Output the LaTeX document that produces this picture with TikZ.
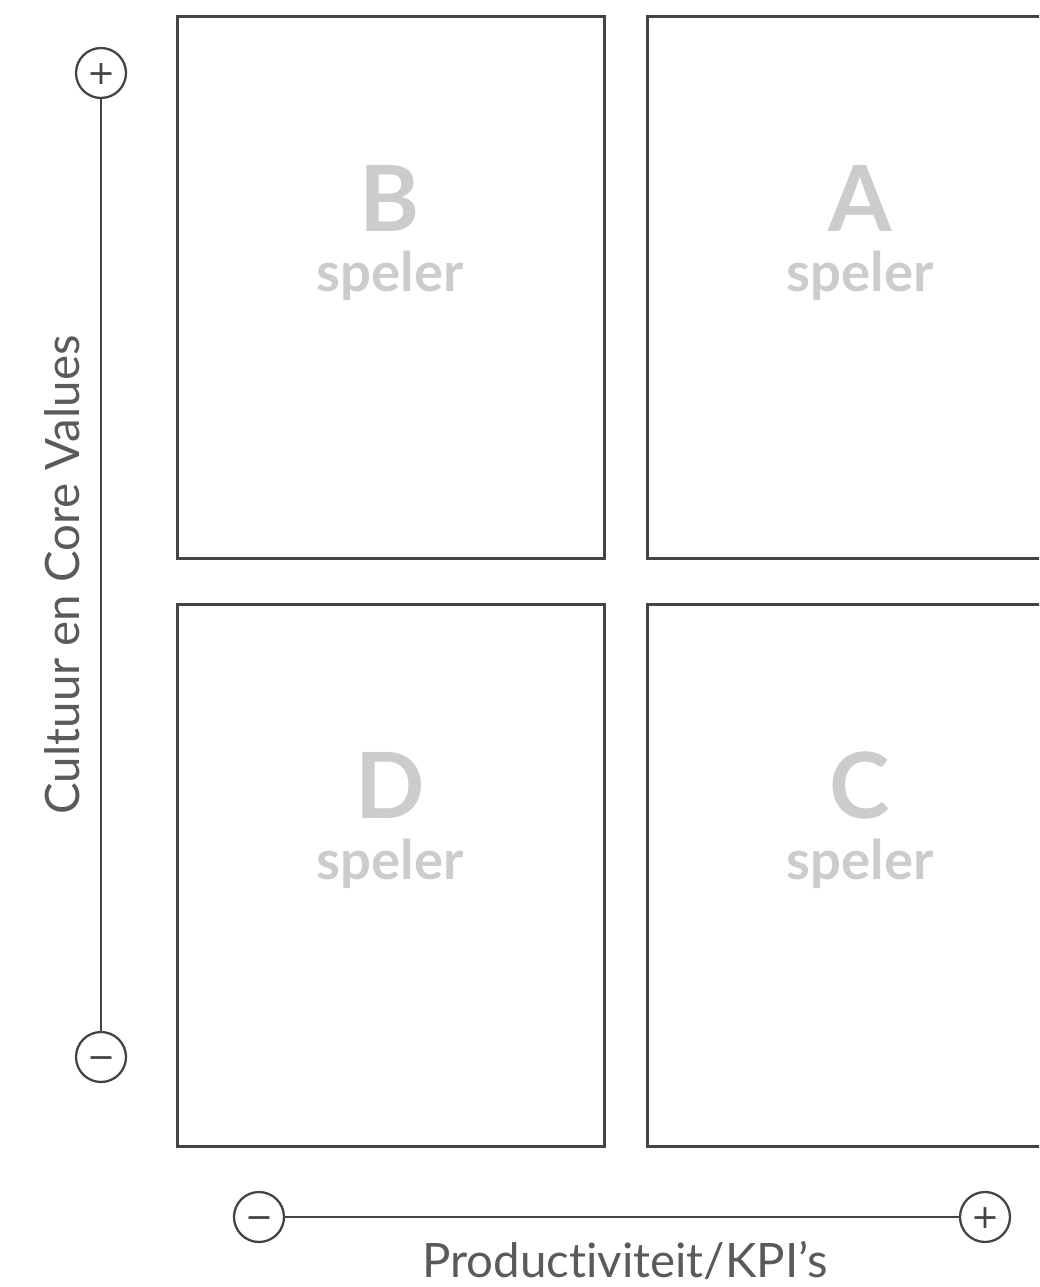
\documentclass[tikz,border=0pt]{standalone}
\usepackage{fontspec}
\setmainfont{Lato}[Ligatures=NoCommon]
\newfontfamily\signfont{DejaVu Sans}
\usepackage{tikz}
\usetikzlibrary{positioning,calc}
\definecolor{frame}{HTML}{444444}
\definecolor{letter}{HTML}{CCCCCC}
\definecolor{axistext}{HTML}{5A5A5A}
\begin{document}
\begin{tikzpicture}[x=0.02cm, y=-0.02cm,
    quad/.style={draw=frame, line width=1.7pt, minimum width=8.55cm, minimum height=10.84cm, anchor=north west, inner sep=0pt},
    big/.style={font=\fontsize{52}{52}\bfseries\selectfont, text=letter},
    role/.style={font=\fontsize{31}{31}\bfseries\selectfont, text=letter},
    sign/.style={draw=frame, circle, line width=1.3pt, minimum size=1cm, inner sep=0pt, text=frame, text height=13pt, text depth=0pt, font=\signfont\fontsize{19}{19}\selectfont},
    axis/.style={draw=frame, line width=1.4pt},
    axislab/.style={text=axistext, font=\fontsize{27}{27}\selectfont},
]
\useasboundingbox (0,0) rectangle (1039,1287);
\clip (0,0) rectangle (1039,1287);

% quadrants
\node[quad] (qb) at (176,15) {};
\node[quad] (qa) at (646,15) {};
\node[quad] (qd) at (176,603) {};
\node[quad] (qc) at (646,603) {};

% letters
\node[big] (lb) at (390,198) {B};
\node[role] (rb) at (390,276) {speler};
\node[big] (la) at (860,198) {A};
\node[role] (ra) at (860,276) {speler};
\node[big] (ld) at (390,785) {D};
\node[role] (rd) at (390,864) {speler};
\node[big] (lc) at (860,785) {C};
\node[role] (rc) at (860,864) {speler};

% vertical axis
\node[sign] (vp) at (101,73) {+};
\node[sign] (vm) at (101,1057) {−};
\draw[axis] (vp) -- (vm);
\node[axislab, rotate=90] (vlab) at (62,575) {Cultuur en Core Values};

% horizontal axis
\node[sign] (hm) at (259,1217) {−};
\node[sign] (hp) at (985,1217) {+};
\draw[axis] (hm) -- (hp);
\node[axislab] (hlab) at (625,1260) {Productiviteit/KPI’s};
\end{tikzpicture}
\end{document}
